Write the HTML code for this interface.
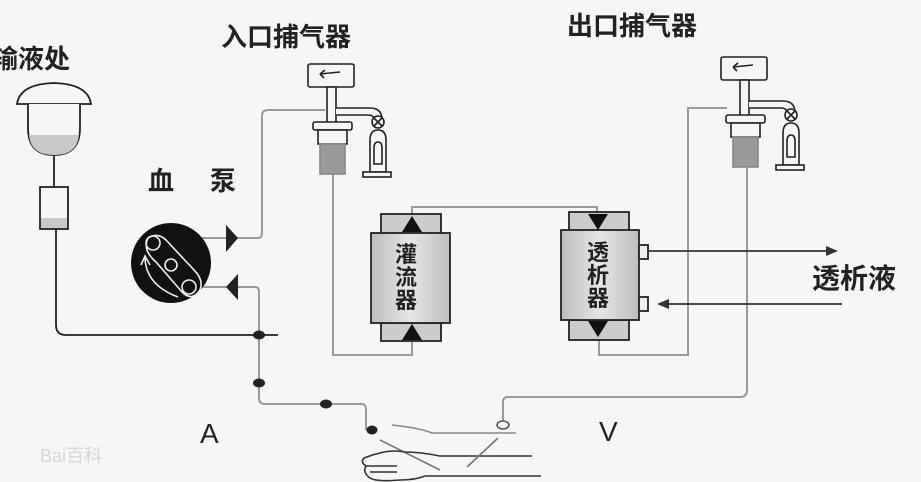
<!DOCTYPE html>
<html><head><meta charset="utf-8"><style>
html,body{margin:0;padding:0;background:#f6f6f6;}
svg{display:block;}
text{font-family:"Liberation Sans","Noto Sans CJK SC",sans-serif;fill:#222;}
</style></head><body>
<svg width="921" height="482" viewBox="0 0 921 482" xmlns="http://www.w3.org/2000/svg">
<defs>
<linearGradient id="bg" x1="0" x2="1"><stop offset="0" stop-color="#bdbdbd"/><stop offset="0.5" stop-color="#e6e6e6"/><stop offset="1" stop-color="#bdbdbd"/></linearGradient>
<g id="trap" stroke="#222" stroke-width="1.6" fill="#f6f6f6">
  <rect x="0" y="0" width="46" height="23" rx="2"/>
  <path d="M12 10 L32 8 M12 10 L17 6 M12 10 L16 14" fill="none"/>
  <rect x="19" y="23" width="9" height="36"/>
  <path d="M28 44 H62 Q74 44 74 56 V60 H66 V56 Q66 51 60 51 H28" />
  <circle cx="70" cy="58" r="6"/>
  <path d="M66 54 L74 62 M74 54 L66 62" fill="none"/>
  <path d="M62 108 V76 Q62 66 70 66 Q78 66 78 76 V108 Z"/>
  <path d="M66 100 V84 Q66 78 70 78 Q74 78 74 84 V100 Z"/>
  <rect x="55" y="108" width="28" height="5"/>
  <rect x="5" y="58" width="39" height="8" rx="2"/>
  <rect x="10" y="66" width="29" height="14"/>
  <rect x="12" y="80" width="25" height="30" fill="#9a9a9a" stroke="#888"/>
</g>
</defs>

<text x="40" y="462" font-size="18" style="fill:#d8d8d8">Bai百科</text>

<g font-weight="bold">
<text x="-8" y="68" font-size="26">输液处</text>
<text x="221" y="46" font-size="26">入口捕气器</text>
<text x="567" y="35" font-size="26">出口捕气器</text>
<text x="148" y="190" font-size="26">血</text>
<text x="210" y="190" font-size="26">泵</text>
<text x="812" y="288" font-size="28">透析液</text>
</g>
<text x="200" y="443" font-size="28">A</text>
<text x="599" y="441" font-size="28">V</text>

<g stroke="#222" stroke-width="1.8" fill="#f6f6f6">
  <path d="M17 104 Q20 84 54 83 Q88 84 91 104 Z"/>
  <path d="M28 104 V128 Q28 155 54 155 Q80 155 80 128 V104"/>
  <path d="M29 135 H79 V132 Q79 155 54 155 Q29 155 29 132 Z" fill="#c8c8c8" stroke="none"/>
  <line x1="54" y1="155" x2="54" y2="187"/>
  <rect x="40" y="187" width="28" height="42"/>
  <rect x="41" y="218" width="26" height="10" fill="#c8c8c8" stroke="none"/>
  <path d="M56 229 V325 Q56 335 66 335 H278" fill="none"/>
</g>

<g stroke="#9a9a9a" stroke-width="2" fill="none">
  <path d="M200 238 H258 Q262 238 262 232 V116 Q262 110 268 110 H325"/>
  <path d="M203 287 H255 Q259 287 259 292 V398 Q259 404 265 404 H362 Q366 404 366 410 V430"/>
  <path d="M333 174 V355 H412 V340"/>
  <path d="M412 214 V207 H597 V212"/>
  <path d="M727 108 H688 V355 H599 V340"/>
  <path d="M747 166 V390 Q747 397 740 397 H508 Q503 397 503 402 V422"/>
</g>

<g fill="#222">
  <ellipse cx="259" cy="335" rx="6" ry="4.5"/>
  <ellipse cx="259" cy="383" rx="6" ry="4.5"/>
  <ellipse cx="326" cy="404" rx="6" ry="4.5"/>
  <ellipse cx="372" cy="430" rx="5.5" ry="4.5"/>
</g>

<circle cx="171" cy="263" r="40" fill="#111"/>
<g stroke="#eee" stroke-width="1.6" fill="none">
  <path d="M148 238 Q142 250 156 262 L182 292 Q192 302 200 290 Q204 280 194 270 L166 240 Q158 232 148 238 Z"/>
  <circle cx="153" cy="243" r="7"/>
  <circle cx="171" cy="265" r="6"/>
  <circle cx="189" cy="287" r="7"/>
  <path d="M145 258 Q146 285 178 297"/>
  <path d="M141 265 L145 256 L150 265"/>
</g>
<path d="M226 225 L238 238 L226 252 Z" fill="#222"/>
<path d="M238 274 L226 287 L238 300 Z" fill="#222"/>

<use href="#trap" x="308" y="64"/>
<use href="#trap" x="721" y="57"/>

<g stroke="#222" stroke-width="1.8">
  <rect x="381" y="214" width="60" height="20" fill="#ccc"/>
  <rect x="381" y="323" width="60" height="18" fill="#ccc"/>
  <rect x="371" y="233" width="79" height="90" fill="url(#bg)"/>
  <rect x="569" y="212" width="60" height="19" fill="#ccc"/>
  <rect x="569" y="320" width="60" height="20" fill="#ccc"/>
  <rect x="561" y="230" width="78" height="90" fill="url(#bg)"/>
  <rect x="639" y="245" width="9" height="14" fill="#eee"/>
  <rect x="639" y="297" width="9" height="14" fill="#eee"/>
</g>
<g fill="#111">
  <path d="M412 216 L402 232 H422 Z"/>
  <path d="M412 324 L402 340 H422 Z"/>
  <path d="M588 214 H608 L598 230 Z"/>
  <path d="M588 321 H608 L598 337 Z"/>
</g>
<g font-size="22" font-weight="bold">
  <text x="395" y="262">灌</text><text x="395" y="285">流</text><text x="395" y="308">器</text>
  <text x="587" y="260">透</text><text x="587" y="283">析</text><text x="587" y="306">器</text>
</g>

<g stroke="#333" stroke-width="1.8" fill="#333">
  <line x1="648" y1="251" x2="830" y2="251"/>
  <path d="M838 251 L826 246 L826 256 Z" stroke="none"/>
  <line x1="668" y1="304" x2="842" y2="304"/>
  <path d="M657 304 L669 299 L669 309 Z" stroke="none"/>
</g>

<g stroke="#333" stroke-width="1.6" fill="none">
  <path d="M392 425 Q420 428 432 433 H516" stroke="#888"/>
  <path d="M440 456 H532"/>
  <path d="M425 476 H541"/>
  <path d="M380 440 L440 470" stroke="#777"/>
  <path d="M498 438 L467 467" stroke="#777"/>
  <ellipse cx="503" cy="425" rx="6" ry="4" stroke="#555" fill="#f6f6f6"/>
  <path d="M440 456 Q420 452 405 452 Q395 450 384 452 Q374 454 364 458 Q360 462 366 466 Q362 472 370 478 Q376 482 400 480 Q415 480 425 476"/>
  <path d="M366 466 H397 M370 472 H397"/>
</g>
</svg>
</body></html>
